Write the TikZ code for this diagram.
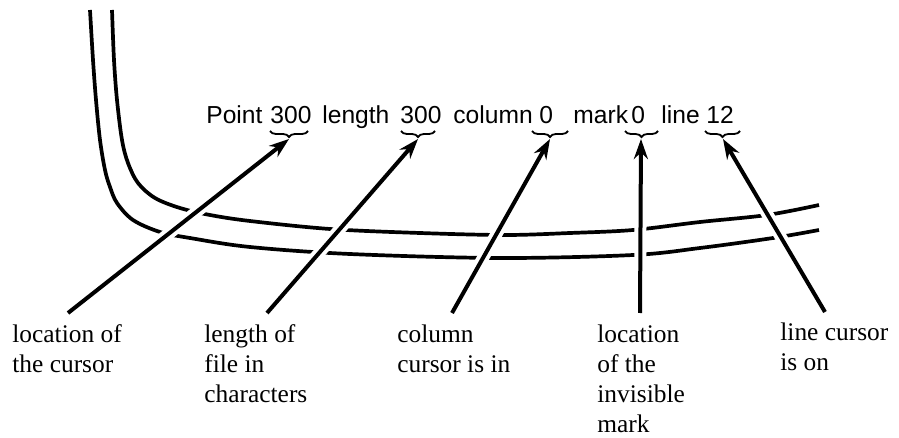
\documentclass[tikz,border=0pt]{standalone}
\usepackage{fontspec}
\setmainfont{Liberation Serif}
\setsansfont{Liberation Sans}
\usetikzlibrary{arrows.meta,decorations.pathreplacing,calc}
\begin{document}
\begin{tikzpicture}[x=0.5pt,y=-0.5pt,
  frame/.style={line width=1.85pt},
  ptr/.style={line width=2pt, -{Stealth[length=10pt,width=7pt]}},
  halo/.style={line width=6pt, white},
  word/.style={font=\sffamily\fontsize{12.3}{14}\selectfont, anchor=base west, inner sep=0pt},
  lbl/.style={font=\fontsize{12.7}{15}\selectfont, anchor=base west, align=left, inner sep=0pt},
  brc/.style={decorate, decoration={brace, mirror, amplitude=3pt}, line width=0.9pt}]
\useasboundingbox (0,0) rectangle (899,438);
% frame curves
\draw[frame] plot[smooth, tension=0.55] coordinates {(112,10) (114,60) (117,100) (122,140) (128,163) (138,183) (155,198) (180,208) (210,215) (250,221) (330,229) (420,233) (505,235) (570,233) (633,230) (700,222) (767,215) (819,205)};
\draw[frame] plot[smooth, tension=0.55] coordinates {(90,10) (93,60) (96,100) (100,140) (105,170) (110,187) (117,203) (133,220) (160,232) (190,238) (250,247) (350,254) (500,258) (633,255) (700,248) (773,238) (819,230)};
% coordinates
\coordinate (t1) at (68,313);
\coordinate (t2) at (267,313);
\coordinate (t3) at (452,313);
\coordinate (t4) at (640,313);
\coordinate (t5) at (825,312);
\coordinate (b1) at (289,139);
\coordinate (b2) at (418,139);
\coordinate (b3) at (550,139);
\coordinate (b4) at (641,139);
\coordinate (b5) at (723,139);
% halos
\foreach \i in {1,...,5}{
  \draw[halo] ($(t\i)!0.2!(b\i)$) -- ($(t\i)!0.75!(b\i)$);
}
% arrows
\foreach \i in {1,...,5}{
  \draw[ptr] (t\i) -- (b\i);
}
% braces
\draw[brc] (270,131) -- (308,131);
\draw[brc] (401,131) -- (435,131);
\draw[brc] (532,131) -- (568,131);
\draw[brc] (625,131) -- (658,131);
\draw[brc] (705,131) -- (740,131);
% top words
\node[word] (w1) at (206,124) {Point};
\node[word] (n1) at (270,124) {300};
\node[word] (w2) at (322,124) {length};
\node[word] (n2) at (400,124) {300};
\node[word] (w3) at (453,124) {column};
\node[word] (n3) at (539,124) {0};
\node[word] (w4) at (573,124) {mark};
\node[word] (n4) at (631,124) {0};
\node[word] (w5) at (661,124) {line};
\node[word] (n5) at (706,124) {12};
% labels (anchored at the baseline of the last line)
\node[lbl] (l1) at (12,372) {location of\\the cursor};
\node[lbl] (l2) at (204,402) {length of\\file in\\characters};
\node[lbl] (l3) at (397,372) {column\\cursor is in};
\node[lbl] (l4) at (597,432) {location\\of the\\invisible\\mark};
\node[lbl] (l5) at (780,370) {line cursor\\is on};
\end{tikzpicture}
\end{document}
